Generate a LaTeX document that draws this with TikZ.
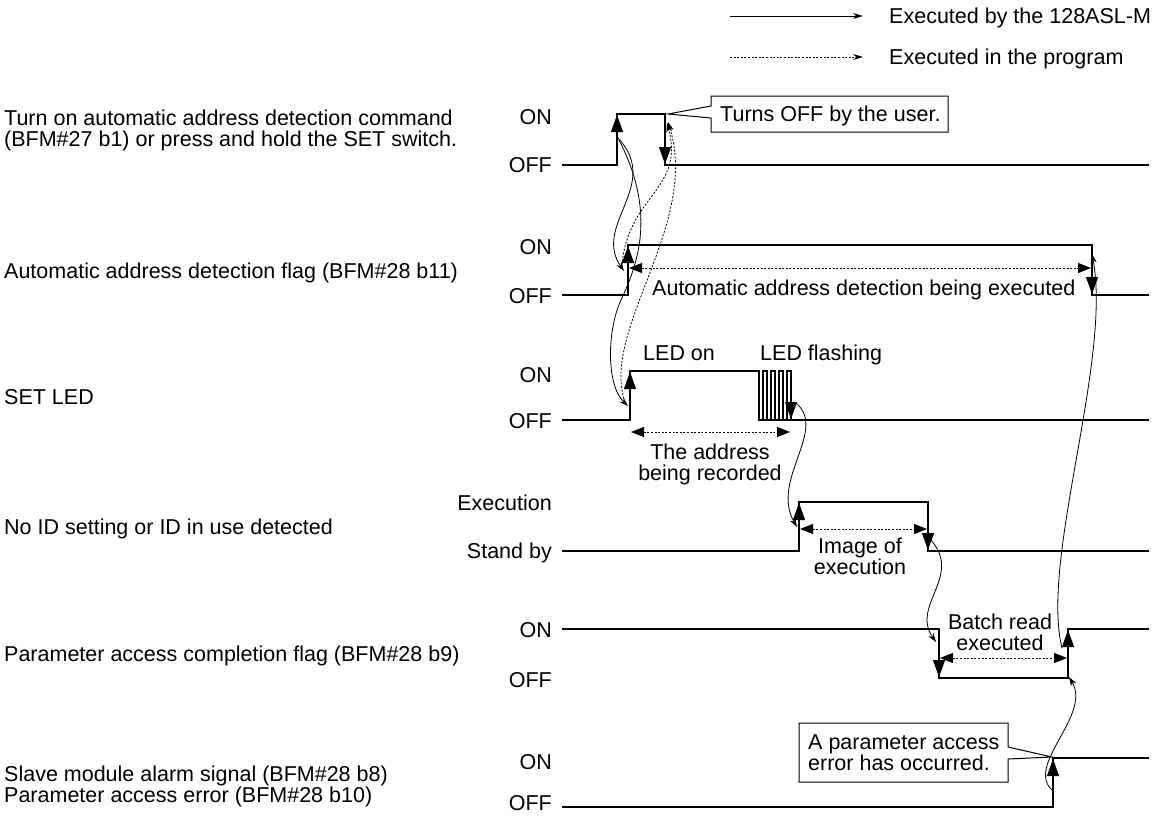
\documentclass[tikz,border=0pt]{standalone}
\usepackage{fontspec}
\setmainfont{Liberation Sans}
\usepackage{tikz}
\usetikzlibrary{arrows.meta,calc,positioning}

\begin{document}
\begin{tikzpicture}[x=1pt,y=-1pt,
  every node/.style={font=\fontsize{21.5}{21}\selectfont,inner sep=0pt},
  sig/.style={line width=1.5pt},
  edgearr/.style={line width=1pt,-{Triangle[length=17pt,width=12pt]}},
  span/.style={line width=1pt,dash pattern=on 2pt off 1.6pt,
    {Triangle[length=13pt,width=10pt]}-{Triangle[length=13pt,width=10pt]}},
  cause/.style={line width=0.8pt,-{Stealth[length=9pt,width=6pt]}},
  prog/.style={cause,dash pattern=on 2pt off 1.6pt},
  lvl/.style={anchor=east,text height=15pt,text depth=4pt},
  row/.style={anchor=west,text height=15pt,text depth=4pt},
  note/.style={align=center}]
  \useasboundingbox (0,0) rectangle (1155,816);

  % legend
  \coordinate (lg1a) at (730,16);  \coordinate (lg1b) at (863,16);
  \coordinate (lg2a) at (730,57);  \coordinate (lg2b) at (863,57);
  \draw[line width=0.9pt,-{Stealth[length=10pt,width=6pt]}] (lg1a) -- (lg1b);
  \draw[line width=0.9pt,dash pattern=on 2pt off 1.6pt,-{Stealth[length=10pt,width=6pt]}] (lg2a) -- (lg2b);
  \node[row] (lgtxt1) at (889,18) {Executed by the 128ASL-M};
  \node[row] (lgtxt2) at (889,59) {Executed in the program};

  % row titles
  \node[anchor=west,align=left] (title1) at (4,130.5)
    {Turn on automatic address detection command\\(BFM\#27 b1) or press and hold the SET switch.};
  \node[row] (title2) at (4,273) {Automatic address detection flag (BFM\#28 b11)};
  \node[row] (title3) at (4,399) {SET LED};
  \node[row] (title4) at (4,529) {No ID setting or ID in use detected};
  \node[row] (title5) at (4,656) {Parameter access completion flag (BFM\#28 b9)};
  \node[anchor=west,align=left] (title6) at (4,786)
    {Slave module alarm signal (BFM\#28 b8)\\Parameter access error (BFM\#28 b10)};

  % level names
  \node[lvl] (on1) at (552,119) {ON};        \node[lvl] (off1) at (552,167) {OFF};
  \node[lvl] (on2) at (552,249) {ON};        \node[lvl] (off2) at (552,298) {OFF};
  \node[lvl] (on3) at (552,377) {ON};        \node[lvl] (off3) at (552,423) {OFF};
  \node[lvl] (on4) at (552,505) {Execution}; \node[lvl] (off4) at (552,553) {Stand by};
  \node[lvl] (on5) at (552,632) {ON};        \node[lvl] (off5) at (552,682) {OFF};
  \node[lvl] (on6) at (552,764) {ON};
  \node[lvl,text depth=0pt] (off6) at (552,803) {OFF};

  % waveforms
  \draw[sig] (562,165) -- (617,165) -- (617,114) -- (665,114) -- (665,165) -- (1149,165);
  \draw[sig] (562,295) -- (628,295) -- (628,245) -- (1092,245) -- (1092,295) -- (1149,295);
  \draw[sig] (562,420) -- (630,420) -- (630,371) -- (759,371) -- (759,420) -- (1149,420);
  \foreach \x in {763,771,779,787}
    \draw[sig] (\x,420) -- (\x,371) -- (\x+4,371) -- (\x+4,420);
  \draw[sig] (562,551) -- (799,551) -- (799,502) -- (928,502) -- (928,551) -- (1149,551);
  \draw[sig] (562,629) -- (939,629) -- (939,678) -- (1068,678) -- (1068,629) -- (1149,629);
  \draw[sig] (562,807) -- (1053,807) -- (1053,758) -- (1149,758);

  % edge markers
  \draw[edgearr] (617,132) -- (617,115);
  \draw[edgearr] (665,147) -- (665,164);
  \draw[edgearr] (628,262) -- (628,246);
  \draw[edgearr] (1092,278) -- (1092,294);
  \draw[edgearr] (630,388) -- (630,372);
  \draw[edgearr] (791,403) -- (791,419);
  \draw[edgearr] (799,519) -- (799,503);
  \draw[edgearr] (928,534) -- (928,550);
  \draw[edgearr] (939,661) -- (939,677);
  \draw[edgearr] (1068,646) -- (1068,630);
  \draw[edgearr] (1053,775) -- (1053,759);

  % durations
  \draw[span] (629,268) -- (1091,268);
  \draw[span] (631,432) -- (790,432);
  \draw[span] (800,529) -- (927,529);
  \draw[span] (940,658) -- (1067,658);
  \node[row] (busy) at (652,290) {Automatic address detection being executed};
  \node[row] (ledon) at (643,355) {LED on};
  \node[row] (ledfl) at (760,355) {LED flashing};
  \node[note] (rec) at (710,464.5) {The address\\being recorded};
  \node[note] (img) at (860,556) {Image of\\execution};
  \node[note] (batch) at (1000,632.5) {Batch read\\executed};

  % call-outs
  \draw[line width=1pt,fill=white] (711,106) -- (711,96) -- (948,96) -- (948,132)
    -- (711,132) -- (711,118) -- (668,114) -- cycle;
  \node[row] (user) at (720,116) {Turns OFF by the user.};
  \draw[line width=1pt,fill=white] (1008,747) -- (1008,723) -- (799,723) -- (799,782)
    -- (1008,782) -- (1008,759) -- (1052,757) -- cycle;
  \node[anchor=west,align=left] (err) at (808,753) {A parameter access\\error has occurred.};

  % cause and effect
  \coordinate (s1up) at (618,138);
  \coordinate (s1upb) at (619,140);
  \coordinate (s1dn) at (667,123);
  \coordinate (s1dnb) at (668,122);
  \coordinate (s2up) at (624,271);
  \coordinate (s2upb) at (622,265);
  \coordinate (s2dn) at (1092,254);
  \coordinate (s3up) at (628,406);
  \coordinate (s3upb) at (625,402);
  \coordinate (s3dn) at (796,403);
  \coordinate (s4up) at (797,527);
  \coordinate (s4dn) at (929,538);
  \coordinate (s5dn) at (936,642);
  \coordinate (s5up) at (1062,648);
  \coordinate (s5upb) at (1069,677);
  \coordinate (s6up) at (1052,790);

  \draw[cause] (s1up) .. controls (662,185) and (592,225) .. (s2up);
  \draw[cause] (s1upb) .. controls (655,210) and (640,260) .. (621,300)
    .. controls (607,330) and (606,385) .. (s3up);
  \draw[prog] (s2upb) .. controls (628,195) and (685,190) .. (s1dn);
  \draw[prog] (s3upb) .. controls (600,330) and (700,225) .. (s1dnb);
  \draw[cause] (s3dn) .. controls (828,430) and (770,480) .. (s4up);
  \draw[cause] (s4dn) .. controls (965,575) and (910,605) .. (s5dn);
  \draw[cause] (s5up) .. controls (1040,560) and (1112,360) .. (s2dn);
  \draw[cause] (s6up) .. controls (1025,765) and (1092,715) .. (s5upb);
\end{tikzpicture}
\end{document}
